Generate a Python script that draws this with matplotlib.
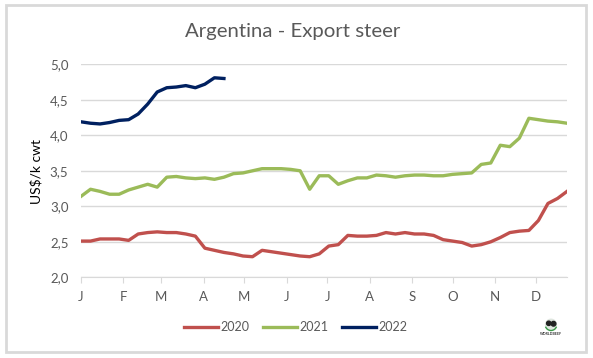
import numpy as np
import matplotlib
matplotlib.use("Agg")
import matplotlib.pyplot as plt
from matplotlib.patches import Rectangle, Circle, Arc

plt.rcParams['font.family'] = ['Lato', 'DejaVu Sans']

months = ['J', 'F', 'M', 'A', 'M', 'J', 'J', 'A', 'S', 'O', 'N', 'D']
month_start_days = [0, 31, 59, 90, 120, 151, 181, 212, 243, 273, 304, 334]
y_ticks = [2.0, 2.5, 3.0, 3.5, 4.0, 4.5, 5.0]

# weekly values, US$/k cwt
v2020 = [2.51, 2.51, 2.54, 2.54, 2.54, 2.52, 2.61, 2.63, 2.64, 2.63,
         2.63, 2.61, 2.58, 2.41, 2.38, 2.35, 2.33, 2.30, 2.29, 2.38,
         2.36, 2.34, 2.32, 2.30, 2.29, 2.33, 2.44, 2.46, 2.59, 2.58,
         2.58, 2.59, 2.63, 2.61, 2.63, 2.61, 2.61, 2.59, 2.53, 2.51,
         2.49, 2.44, 2.46, 2.50, 2.56, 2.63, 2.65, 2.66, 2.80, 3.04,
         3.11, 3.21]
v2021 = [3.14, 3.24, 3.21, 3.17, 3.17, 3.23, 3.27, 3.31, 3.27, 3.41,
         3.42, 3.40, 3.39, 3.40, 3.38, 3.41, 3.46, 3.47, 3.50, 3.53,
         3.53, 3.53, 3.52, 3.50, 3.24, 3.43, 3.43, 3.31, 3.36, 3.40,
         3.40, 3.44, 3.43, 3.41, 3.43, 3.44, 3.44, 3.43, 3.43, 3.45,
         3.46, 3.47, 3.59, 3.61, 3.86, 3.84, 3.96, 4.24, 4.22, 4.20,
         4.19, 4.17]
v2022 = [4.19, 4.17, 4.16, 4.18, 4.21, 4.22, 4.30, 4.44, 4.61, 4.67,
         4.68, 4.70, 4.67, 4.72, 4.81, 4.80]

W, H = 593, 358
fig = plt.figure(figsize=(W / 100, H / 100), dpi=100)
ax = fig.add_axes([81 / W, 1 - 277.3 / H, (567 - 81) / W, (277.3 - 64.3) / H])

grey = '#595959'
grid = '#d9d9d9'

ax.plot(np.arange(len(v2020)), v2020, color='#c0504d', lw=2.4, label='2020')
ax.plot(np.arange(len(v2021)), v2021, color='#9bbb59', lw=2.4, label='2021')
ax.plot(np.arange(len(v2022)), v2022, color='#002060', lw=2.4, label='2022')

ax.set_xlim(0, 51)
ax.set_ylim(2, 5)
ax.set_yticks(y_ticks)
ax.set_yticklabels([f'{t:.1f}'.replace('.', ',') for t in y_ticks], color=grey, fontsize=9.5)
ax.set_xticks([d / 7 for d in month_start_days])
ax.set_xticklabels(months, color=grey, fontsize=9.5)
ax.tick_params(axis='y', length=0, pad=9)
ax.tick_params(axis='x', length=4, color=grid, pad=6)
ax.grid(axis='y', color=grid, lw=1)
ax.set_axisbelow(True)
for s in ['top', 'left', 'right']:
    ax.spines[s].set_visible(False)
ax.spines['bottom'].set_color(grid)

fig.text(293 / W, 1 - 31 / H, 'Argentina - Export steer', ha='center', va='center',
         color=grey, fontsize=14.7)
fig.text(36 / W, 1 - 171 / H, 'US$/k cwt', rotation=90, ha='center', va='center',
         color='black', fontsize=10)

ax.legend(loc='center', bbox_to_anchor=(296 / W, 1 - 327 / H), bbox_transform=fig.transFigure,
          ncol=3, frameon=False, fontsize=9, labelcolor=grey, handlelength=2.65,
          handletextpad=0.25, columnspacing=1.1)

# outer chart frame
fig.add_artist(Rectangle((5.5 / W, 1 - 351.5 / H), 580 / W, 346.5 / H, transform=fig.transFigure,
                         fill=False, edgecolor='#d9d9d9', lw=2))

# small logo
la = fig.add_axes([(551 - 9) / W, 1 - (326 + 9) / H, 18 / W, 18 / H])
la.set_xlim(-1, 1)
la.set_ylim(-1, 1)
la.axis('off')
la.add_patch(Circle((0, 0.15), 0.6, color='#dfe6df'))
la.add_patch(Circle((-0.25, 0.3), 0.24, color='#222222'))
la.add_patch(Circle((0.28, 0.25), 0.26, color='#222222'))
la.add_patch(Arc((0, 0.15), 1.3, 1.3, theta1=200, theta2=340, color='#3c9a4a', lw=1))
fig.text(551 / W, 1 - 334 / H, 'WORLDBEEF', ha='center', va='center', color='#333333',
         fontsize=2.6, fontweight='bold')

fig.savefig('out.png', dpi=100)
